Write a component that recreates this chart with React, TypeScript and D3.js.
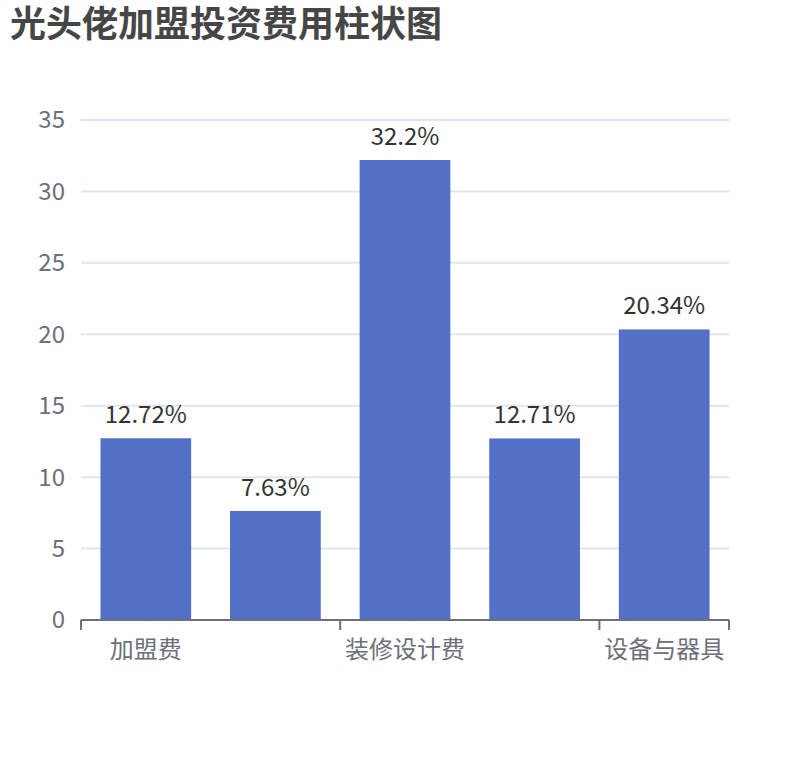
import React from "react";
import * as d3 from "d3";

const title = "光头佬加盟投资费用柱状图";
const categories = ["加盟费", "保证金", "装修设计费", "首批进货费", "设备与器具"];
const values = [12.72, 7.63, 32.2, 12.71, 20.34];
const yTicks = [0, 5, 10, 15, 20, 25, 30, 35];

const W = 810;
const H = 760;
const left = 81;
const right = 729;
const top = 120;
const bottom = 620;
const FONT = "'Noto Sans CJK SC', 'Noto Sans', sans-serif";

export default function App() {
  const x = d3.scaleBand<string>().domain(categories).range([left, right]).paddingInner(0).paddingOuter(0);
  const y = d3.scaleLinear().domain([0, 35]).range([bottom, top]);
  const bw = x.bandwidth();
  const barW = bw * 0.7;
  const tickXs = categories.map((c) => x(c) as number).concat([right]);

  return (
    <svg width={W} height={H} style={{ position: "absolute", left: 0, top: 0, background: "#fff" }} fontFamily={FONT}>
      <text x={10} y={37} fontSize={36} fontWeight="bold" fill="#464646">{title}</text>
      {yTicks.map((t) => (
        <g key={t}>
          {t !== 0 && <line x1={left} x2={right} y1={y(t)} y2={y(t)} stroke="#E0E6F1" strokeWidth={2} />}
          <text x={65} y={y(t)} dy="0.35em" textAnchor="end" fontSize={24} fill="#6E7079">{t}</text>
        </g>
      ))}
      {categories.map((c, i) => {
        const cx = (x(c) as number) + bw / 2;
        return (
          <g key={c}>
            <rect x={cx - barW / 2} y={y(values[i])} width={barW} height={bottom - y(values[i])} fill="#5470C6" />
            <text x={cx} y={y(values[i]) - 15} textAnchor="middle" fontSize={24} fill="#333">{values[i] + "%"}</text>
          </g>
        );
      })}
      <line x1={left} x2={right} y1={bottom} y2={bottom} stroke="#6E7079" strokeWidth={2} />
      {tickXs.map((tx, i) => (i % 2 === 0 || i === tickXs.length - 1) && (
        <line key={i} x1={tx} x2={tx} y1={bottom} y2={bottom + 10} stroke="#6E7079" strokeWidth={2} />
      ))}
      {categories.map((c, i) => i % 2 === 0 && (
        <text key={c} x={(x(c) as number) + bw / 2} y={658} textAnchor="middle" fontSize={24} fill="#6E7079">{c}</text>
      ))}
    </svg>
  );
}
